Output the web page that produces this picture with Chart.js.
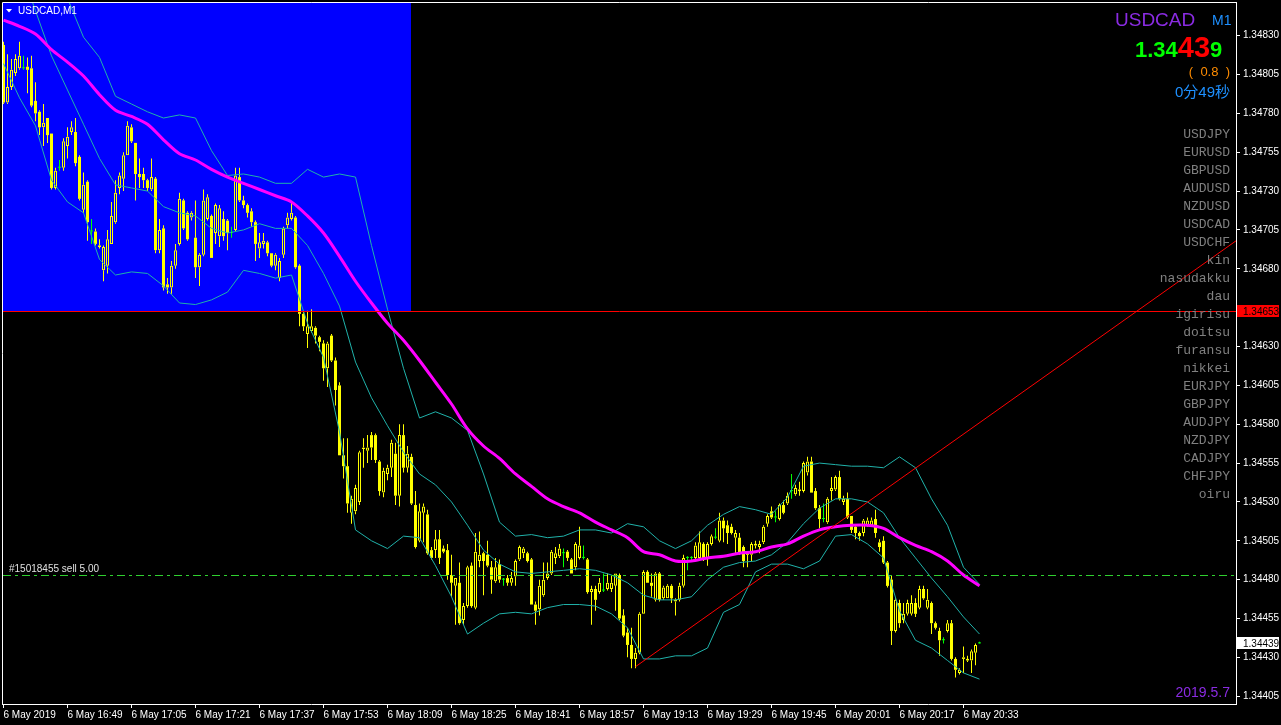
<!DOCTYPE html>
<html>
<head>
<meta charset="utf-8">
<title>USDCAD,M1</title>
<script src="https://cdn.jsdelivr.net/npm/chart.js@4.4.0/dist/chart.umd.min.js"></script>
<style>
  html, body { margin: 0; padding: 0; background: #000; }
  #wrap { width: 1281px; height: 725px; }
</style>
</head>
<body>
<div id="wrap"><canvas id="chart" width="1281" height="725"></canvas></div>
<script>
// USDCAD 1-minute bars, 6 May 2019 16:33 .. 20:37 (bar index 0..244)
const tickBars = [0, 16, 32, 48, 64, 80, 96, 112, 128, 144, 160, 176, 192, 208, 224, 240];
const tickLabels = ['6 May 2019', '6 May 16:49', '6 May 17:05', '6 May 17:21', '6 May 17:37', '6 May 17:53',
  '6 May 18:09', '6 May 18:25', '6 May 18:41', '6 May 18:57', '6 May 19:13', '6 May 19:29',
  '6 May 19:45', '6 May 20:01', '6 May 20:17', '6 May 20:33'];
// 1.34655 is hidden behind the level tag, as in the terminal
const priceTicks = [1.34405, 1.34430, 1.34455, 1.34480, 1.34505, 1.34530, 1.34555, 1.34580, 1.34605,
  1.34630, 1.34680, 1.34705, 1.34730, 1.34755, 1.34780, 1.34805, 1.34830];

const open = [
1.34824,1.34787,1.34797,1.34806,1.34809,1.34809,1.34810,1.34809,1.34788,1.34781,
1.34771,1.34777,1.34767,1.34732,1.34745,1.34745,1.34759,1.34768,1.34768,1.34752,
1.34718,1.34736,1.34704,1.34704,1.34695,1.34679,1.34682,1.34696,1.34710,1.34732,
1.34738,1.34753,1.34771,1.34761,1.34741,1.34741,1.34737,1.34731,1.34738,1.34692,
1.34706,1.34670,1.34668,1.34682,1.34696,1.34724,1.34716,1.34713,1.34700,1.34681,
1.34689,1.34712,1.34714,1.34703,1.34701,1.34712,1.34711,1.34703,1.34705,1.34739,
1.34724,1.34721,1.34717,1.34710,1.34693,1.34696,1.34697,1.34690,1.34682,1.34674,
1.34689,1.34708,1.34712,1.34713,1.34682,1.34651,1.34638,1.34640,1.34642,1.34636,
1.34632,1.34616,1.34637,1.34621,1.34605,1.34560,1.34553,1.34523,1.34524,1.34530,
1.34564,1.34563,1.34573,1.34573,1.34556,1.34536,1.34548,1.34552,1.34561,1.34534,
1.34573,1.34552,1.34559,1.34528,1.34505,1.34523,1.34522,1.34499,1.34499,1.34506,
1.34500,1.34499,1.34483,1.34476,1.34478,1.34454,1.34463,1.34489,1.34462,1.34492,
1.34497,1.34496,1.34488,1.34479,1.34490,1.34480,1.34481,1.34478,1.34482,1.34493,
1.34497,1.34497,1.34493,1.34464,1.34461,1.34470,1.34481,1.34484,1.34494,1.34495,
1.34497,1.34498,1.34493,1.34488,1.34494,1.34494,1.34493,1.34472,1.34474,1.34472,
1.34473,1.34474,1.34474,1.34476,1.34483,1.34457,1.34446,1.34438,1.34429,1.34433,
1.34458,1.34485,1.34478,1.34467,1.34484,1.34468,1.34468,1.34476,1.34466,1.34467,
1.34476,1.34494,1.34494,1.34494,1.34494,1.34503,1.34494,1.34503,1.34507,1.34505,
1.34518,1.34515,1.34514,1.34507,1.34507,1.34501,1.34497,1.34496,1.34503,1.34501,
1.34504,1.34516,1.34524,1.34520,1.34519,1.34528,1.34529,1.34537,1.34535,1.34538,
1.34537,1.34549,1.34556,1.34537,1.34526,1.34519,1.34517,1.34537,1.34538,1.34546,
1.34530,1.34532,1.34521,1.34514,1.34510,1.34510,1.34515,1.34515,1.34519,1.34504,
1.34505,1.34491,1.34480,1.34447,1.34465,1.34454,1.34458,1.34458,1.34465,1.34462,
1.34474,1.34462,1.34465,1.34452,1.34447,1.34441,1.34447,1.34452,1.34429,1.34420,
1.34430,1.34429,1.34428,1.34433,1.34439];
const high = [
1.34826,1.34818,1.34815,1.34818,1.34826,1.34817,1.34816,1.34817,1.34800,1.34782,
1.34786,1.34777,1.34767,1.34745,1.34750,1.34764,1.34771,1.34775,1.34777,1.34753,
1.34742,1.34737,1.34712,1.34706,1.34699,1.34695,1.34705,1.34723,1.34737,1.34742,
1.34755,1.34775,1.34773,1.34761,1.34751,1.34745,1.34738,1.34751,1.34739,1.34712,
1.34708,1.34674,1.34685,1.34696,1.34729,1.34725,1.34717,1.34717,1.34724,1.34690,
1.34731,1.34728,1.34715,1.34722,1.34721,1.34717,1.34712,1.34707,1.34745,1.34745,
1.34727,1.34722,1.34719,1.34711,1.34703,1.34703,1.34698,1.34690,1.34690,1.34687,
1.34707,1.34716,1.34723,1.34714,1.34683,1.34653,1.34653,1.34654,1.34643,1.34637,
1.34634,1.34633,1.34638,1.34623,1.34607,1.34571,1.34571,1.34534,1.34541,1.34563,
1.34571,1.34573,1.34575,1.34574,1.34557,1.34552,1.34554,1.34570,1.34568,1.34580,
1.34580,1.34566,1.34561,1.34537,1.34529,1.34529,1.34525,1.34501,1.34512,1.34512,
1.34502,1.34503,1.34496,1.34481,1.34491,1.34465,1.34489,1.34491,1.34510,1.34511,
1.34498,1.34505,1.34492,1.34494,1.34493,1.34481,1.34483,1.34485,1.34493,1.34502,
1.34501,1.34498,1.34494,1.34466,1.34480,1.34491,1.34491,1.34499,1.34501,1.34503,
1.34500,1.34499,1.34494,1.34504,1.34514,1.34502,1.34494,1.34476,1.34476,1.34481,
1.34484,1.34484,1.34483,1.34484,1.34484,1.34461,1.34449,1.34449,1.34436,1.34459,
1.34486,1.34486,1.34484,1.34485,1.34485,1.34476,1.34477,1.34477,1.34468,1.34478,
1.34496,1.34495,1.34495,1.34504,1.34511,1.34504,1.34504,1.34509,1.34513,1.34523,
1.34520,1.34518,1.34516,1.34512,1.34510,1.34502,1.34498,1.34504,1.34505,1.34505,
1.34515,1.34522,1.34527,1.34524,1.34529,1.34531,1.34536,1.34548,1.34541,1.34543,
1.34556,1.34559,1.34559,1.34539,1.34528,1.34529,1.34533,1.34546,1.34547,1.34550,
1.34534,1.34536,1.34521,1.34515,1.34511,1.34519,1.34520,1.34520,1.34525,1.34506,
1.34508,1.34492,1.34483,1.34468,1.34467,1.34465,1.34467,1.34470,1.34468,1.34476,
1.34476,1.34474,1.34466,1.34453,1.34449,1.34443,1.34454,1.34454,1.34430,1.34423,
1.34437,1.34431,1.34435,1.34439,1.34440];
const low = [
1.34786,1.34786,1.34795,1.34804,1.34808,1.34808,1.34793,1.34784,1.34775,1.34766,
1.34759,1.34761,1.34731,1.34731,1.34743,1.34743,1.34751,1.34766,1.34746,1.34724,
1.34716,1.34698,1.34696,1.34695,1.34693,1.34672,1.34677,1.34696,1.34709,1.34728,
1.34730,1.34753,1.34761,1.34724,1.34732,1.34732,1.34730,1.34730,1.34690,1.34690,
1.34666,1.34664,1.34664,1.34680,1.34695,1.34705,1.34698,1.34711,1.34674,1.34669,
1.34688,1.34711,1.34687,1.34696,1.34694,1.34698,1.34692,1.34700,1.34704,1.34723,
1.34719,1.34713,1.34707,1.34685,1.34687,1.34693,1.34688,1.34681,1.34679,1.34672,
1.34687,1.34706,1.34711,1.34680,1.34643,1.34640,1.34629,1.34639,1.34632,1.34627,
1.34608,1.34604,1.34620,1.34592,1.34560,1.34545,1.34523,1.34516,1.34522,1.34528,
1.34552,1.34555,1.34557,1.34555,1.34534,1.34533,1.34544,1.34546,1.34528,1.34527,
1.34549,1.34549,1.34528,1.34500,1.34504,1.34504,1.34496,1.34493,1.34494,1.34490,
1.34497,1.34480,1.34469,1.34451,1.34451,1.34451,1.34462,1.34462,1.34461,1.34488,
1.34470,1.34488,1.34471,1.34478,1.34478,1.34476,1.34476,1.34476,1.34476,1.34492,
1.34494,1.34491,1.34464,1.34451,1.34457,1.34469,1.34480,1.34483,1.34490,1.34494,
1.34488,1.34492,1.34484,1.34486,1.34493,1.34493,1.34471,1.34451,1.34460,1.34471,
1.34472,1.34473,1.34472,1.34460,1.34454,1.34443,1.34430,1.34423,1.34423,1.34432,
1.34458,1.34478,1.34469,1.34466,1.34466,1.34467,1.34468,1.34465,1.34457,1.34466,
1.34475,1.34486,1.34492,1.34492,1.34492,1.34492,1.34489,1.34502,1.34506,1.34504,
1.34504,1.34503,1.34509,1.34497,1.34496,1.34488,1.34488,1.34492,1.34500,1.34497,
1.34503,1.34514,1.34519,1.34517,1.34518,1.34522,1.34528,1.34532,1.34534,1.34534,
1.34536,1.34547,1.34536,1.34525,1.34513,1.34517,1.34516,1.34531,1.34537,1.34531,
1.34528,1.34519,1.34510,1.34506,1.34505,1.34508,1.34514,1.34514,1.34507,1.34498,
1.34490,1.34475,1.34438,1.34446,1.34449,1.34452,1.34457,1.34457,1.34456,1.34461,
1.34467,1.34461,1.34445,1.34448,1.34431,1.34439,1.34446,1.34428,1.34417,1.34419,
1.34420,1.34427,1.34420,1.34425,1.34439];
const close = [
1.34787,1.34797,1.34808,1.34815,1.34817,1.34809,1.34808,1.34785,1.34780,1.34771,
1.34774,1.34766,1.34732,1.34743,1.34745,1.34762,1.34765,1.34771,1.34748,1.34725,
1.34734,1.34710,1.34704,1.34696,1.34694,1.34694,1.34699,1.34714,1.34729,1.34740,
1.34753,1.34772,1.34762,1.34741,1.34739,1.34737,1.34732,1.34739,1.34692,1.34705,
1.34668,1.34668,1.34682,1.34692,1.34725,1.34706,1.34699,1.34716,1.34681,1.34689,
1.34724,1.34726,1.34687,1.34721,1.34719,1.34701,1.34703,1.34703,1.34740,1.34724,
1.34721,1.34716,1.34710,1.34696,1.34697,1.34698,1.34690,1.34682,1.34689,1.34685,
1.34706,1.34713,1.34716,1.34681,1.34651,1.34643,1.34643,1.34643,1.34637,1.34633,
1.34616,1.34632,1.34621,1.34602,1.34560,1.34553,1.34529,1.34532,1.34539,1.34562,
1.34565,1.34565,1.34565,1.34557,1.34537,1.34550,1.34552,1.34568,1.34534,1.34573,
1.34552,1.34561,1.34529,1.34501,1.34524,1.34527,1.34497,1.34494,1.34506,1.34494,
1.34498,1.34483,1.34478,1.34481,1.34452,1.34463,1.34488,1.34463,1.34498,1.34496,
1.34492,1.34489,1.34480,1.34488,1.34480,1.34480,1.34478,1.34481,1.34492,1.34501,
1.34500,1.34492,1.34464,1.34460,1.34476,1.34480,1.34484,1.34498,1.34497,1.34500,
1.34497,1.34494,1.34484,1.34503,1.34502,1.34494,1.34472,1.34474,1.34467,1.34478,
1.34473,1.34478,1.34478,1.34484,1.34455,1.34444,1.34438,1.34429,1.34433,1.34458,
1.34485,1.34478,1.34476,1.34484,1.34467,1.34475,1.34476,1.34468,1.34467,1.34476,
1.34494,1.34494,1.34494,1.34502,1.34504,1.34494,1.34503,1.34508,1.34507,1.34518,
1.34513,1.34510,1.34510,1.34510,1.34497,1.34492,1.34496,1.34503,1.34502,1.34503,
1.34514,1.34521,1.34520,1.34520,1.34528,1.34523,1.34534,1.34537,1.34539,1.34537,
1.34555,1.34556,1.34536,1.34526,1.34519,1.34519,1.34532,1.34539,1.34546,1.34532,
1.34532,1.34520,1.34512,1.34510,1.34508,1.34518,1.34518,1.34518,1.34510,1.34501,
1.34491,1.34476,1.34447,1.34467,1.34452,1.34458,1.34465,1.34465,1.34458,1.34474,
1.34468,1.34467,1.34452,1.34449,1.34441,1.34441,1.34452,1.34429,1.34422,1.34422,
1.34429,1.34428,1.34434,1.34438,1.34439];

// indicator readings, one every 4th bar (bar 0, 4, 8 ... 244)
const bandStep = 4;
const maLine = [
1.34840,1.34836,1.34831,1.34821,1.34813,1.34804,1.34792,1.34782,1.34778,1.34773,
1.34763,1.34754,1.34750,1.34744,1.34739,1.34735,1.34731,1.34727,1.34723,1.34714,
1.34703,1.34688,1.34672,1.34658,1.34645,1.34634,1.34621,1.34607,1.34593,1.34577,
1.34566,1.34558,1.34548,1.34540,1.34532,1.34527,1.34523,1.34517,1.34512,1.34507,
1.34498,1.34496,1.34492,1.34492,1.34494,1.34495,1.34497,1.34498,1.34501,1.34503,
1.34508,1.34512,1.34514,1.34515,1.34515,1.34513,1.34507,1.34502,1.34498,1.34492,
1.34483,1.34476];
const bandUpper = [
null,null,null,1.34880,1.34854,1.34829,1.34816,1.34791,1.34786,1.34781,
1.34777,1.34779,1.34777,1.34756,1.34740,1.34741,1.34739,1.34735,1.34735,1.34744,
1.34739,1.34741,1.34739,1.34695,1.34654,1.34616,1.34584,1.34588,1.34584,1.34576,
1.34548,1.34517,1.34508,1.34509,1.34507,1.34508,1.34512,1.34512,1.34510,1.34516,
1.34514,1.34505,1.34500,1.34505,1.34515,1.34522,1.34527,1.34525,1.34522,1.34533,
1.34553,1.34555,1.34554,1.34553,1.34553,1.34552,1.34559,1.34552,1.34532,1.34515,
1.34488,1.34477];
const bandMid = [
null,1.34875,1.34846,1.34817,1.34795,1.34773,1.34751,1.34734,1.34732,1.34730,
1.34720,1.34716,1.34714,1.34706,1.34703,1.34705,1.34709,1.34706,1.34706,1.34695,
1.34677,1.34656,1.34620,1.34597,1.34579,1.34562,1.34548,1.34541,1.34530,1.34515,
1.34499,1.34490,1.34485,1.34484,1.34485,1.34486,1.34487,1.34486,1.34483,1.34478,
1.34470,1.34467,1.34467,1.34469,1.34480,1.34488,1.34491,1.34492,1.34496,1.34504,
1.34516,1.34526,1.34532,1.34532,1.34530,1.34523,1.34507,1.34494,1.34481,1.34469,
1.34456,1.34445];
const bandLower = [
1.34812,1.34790,1.34772,1.34737,1.34723,1.34716,1.34686,1.34676,1.34678,1.34677,
1.34669,1.34658,1.34657,1.34660,1.34665,1.34679,1.34677,1.34674,1.34676,1.34645,
1.34623,1.34575,1.34512,1.34505,1.34500,1.34508,1.34507,1.34489,1.34469,1.34445,
1.34452,1.34458,1.34459,1.34458,1.34462,1.34464,1.34464,1.34463,1.34458,1.34449,
1.34429,1.34429,1.34431,1.34431,1.34436,1.34459,1.34464,1.34485,1.34490,1.34490,
1.34487,1.34492,1.34508,1.34509,1.34503,1.34494,1.34460,1.34441,1.34436,1.34428,
1.34420,1.34416];

// chart objects
const levelPrice = 1.34653;
const orderPrice = 1.34483;
const orderText = '#15018455 sell 5.00';
const trendAnchors = [[158, 1.34424], [238, 1.34570]];
const boxObj = { from: -5, to: 101.8, bottom: 1.34653, top: 1.34900 };
const symbolName = 'USDCAD';
const periodName = 'M1';
const spreadText = '(  0.8  )';
const timerText = '0分49秒';
const dateText = '2019.5.7';
const watchList = ['USDJPY', 'EURUSD', 'GBPUSD', 'AUDUSD', 'NZDUSD', 'USDCAD', 'USDCHF', 'kin',
  'nasudakku', 'dau', 'igirisu', 'doitsu', 'furansu', 'nikkei', 'EURJPY', 'GBPJPY', 'AUDJPY',
  'NZDJPY', 'CADJPY', 'CHFJPY', 'oiru'];

const YELLOW = '#ffff00', GREEN = '#00ff00', BANDS = '#20b2aa';
const FONT = '"Liberation Sans", Arial, sans-serif';

const bars = open.map((_, i) => i);
const isDoji = i => open[i] === close[i];
const isBull = i => close[i] > open[i];
const candleColor = bars.map(i => isDoji(i) ? GREEN : YELLOW);
const lineData = arr => arr.map((v, k) => ({ x: k * bandStep, y: v }));

const mt4Objects = {
  id: 'mt4Objects',
  beforeDraw(chart) {
    const { ctx, width, height } = chart;
    ctx.save();
    ctx.fillStyle = '#000';
    ctx.fillRect(0, 0, width, height);
    ctx.restore();
  },
  beforeDatasetsDraw(chart) {
    const { ctx, chartArea: a, scales: { x, y } } = chart;
    ctx.save();
    ctx.beginPath();
    ctx.rect(a.left, a.top, a.right - a.left, a.bottom - a.top);
    ctx.clip();
    const x0 = Math.max(a.left, x.getPixelForValue(boxObj.from));
    const x1 = Math.round(x.getPixelForValue(boxObj.to));
    const y0 = Math.max(a.top, y.getPixelForValue(boxObj.top));
    const y1 = Math.round(y.getPixelForValue(boxObj.bottom));
    ctx.fillStyle = '#0000ff';
    ctx.fillRect(x0, y0, x1 - x0, y1 - y0);
    ctx.restore();
  },
  afterDatasetsDraw(chart) {
    const { ctx, chartArea: a, scales: { x, y } } = chart;
    ctx.save();
    ctx.beginPath();
    ctx.rect(a.left, a.top, a.right - a.left, a.bottom - a.top);
    ctx.clip();
    ctx.lineWidth = 1;

    // horizontal level
    const ly = Math.round(y.getPixelForValue(levelPrice)) + 0.5;
    ctx.strokeStyle = '#ff0000';
    ctx.beginPath(); ctx.moveTo(a.left, ly); ctx.lineTo(a.right, ly); ctx.stroke();

    // order line
    const oy = Math.round(y.getPixelForValue(orderPrice)) + 0.5;
    ctx.strokeStyle = '#2fd02f';
    ctx.setLineDash([8, 4, 3, 4]);
    ctx.beginPath(); ctx.moveTo(a.left, oy); ctx.lineTo(a.right, oy); ctx.stroke();
    ctx.setLineDash([]);

    // trend ray
    const [[t1, p1], [t2, p2]] = trendAnchors;
    const slope = (p2 - p1) / (t2 - t1);
    const pEnd = p1 + slope * (x.max - t1);
    ctx.strokeStyle = '#ff0000';
    ctx.beginPath();
    ctx.moveTo(x.getPixelForValue(t1), y.getPixelForValue(p1));
    ctx.lineTo(x.getPixelForValue(x.max), y.getPixelForValue(pEnd));
    ctx.stroke();
    ctx.restore();
  },
  afterDraw(chart) {
    const { ctx, chartArea: a, scales: { y } } = chart;
    ctx.save();
    // frame top/left
    ctx.strokeStyle = '#ffffff';
    ctx.lineWidth = 1;
    ctx.beginPath();
    ctx.moveTo(a.left - 0.5, a.bottom + 1);
    ctx.lineTo(a.left - 0.5, a.top - 0.5);
    ctx.lineTo(a.right + 1, a.top - 0.5);
    ctx.stroke();

    const txt = (s, px, py, font, color, align) => {
      ctx.font = font; ctx.fillStyle = color; ctx.textAlign = align || 'left';
      ctx.textBaseline = 'alphabetic'; ctx.fillText(s, px, py);
    };

    // window caption
    ctx.fillStyle = '#ffffff';
    ctx.beginPath(); ctx.moveTo(6, 9); ctx.lineTo(12, 9); ctx.lineTo(9, 12.5); ctx.closePath(); ctx.fill();
    txt(symbolName + ',' + periodName, 18, 14, '10px ' + FONT, '#ffffff');

    // order label
    txt(orderText, 9, 572, '10px ' + FONT, '#e0e0e0');

    // symbol + price block
    txt(symbolName, 1115, 26, '19px ' + FONT, '#8a2be2');
    txt(periodName, 1212, 25, '14px ' + FONT, '#1e90ff');
    const last = close[close.length - 1].toFixed(5);
    const parts = [[last.slice(0, 4), 'bold 22px ' + FONT, '#00ff00'],
                   [last.slice(4, 6), 'bold 29px ' + FONT, '#ff0000'],
                   [last.slice(6), 'bold 22px ' + FONT, '#00ff00']];
    let px = 1135;
    parts.forEach(([s, f, c]) => { txt(s, px, 57, f, c); ctx.font = f; px += ctx.measureText(s).width; });
    txt(spreadText, 1230, 76, '13px ' + FONT, '#ff8c00', 'right');
    txt(timerText, 1230, 97, '15px ' + FONT + ', "Noto Sans CJK JP"', '#1e90ff', 'right');

    // watch list
    watchList.forEach((s, k) => txt(s, 1230, 138 + k * 18, '13px "Liberation Mono", "Courier New", monospace', '#808080', 'right'));

    txt(dateText, 1230, 697, '14px ' + FONT, '#8a2be2', 'right');

    // price labels on the axis
    const tag = (price, bg, fg) => {
      const py = Math.round(y.getPixelForValue(price));
      ctx.fillStyle = bg;
      ctx.fillRect(a.right + 1, py - 6, 42, 12);
      txt(price.toFixed(5), a.right + 7, py + 4, '10px ' + FONT, fg);
    };
    tag(levelPrice, '#ff0000', '#000000');
    tag(close[close.length - 1], '#ffffff', '#000000');
    ctx.restore();
  }
};

new Chart(document.getElementById('chart'), {
  type: 'bar',
  data: {
    datasets: [
      { type: 'line', label: 'MA', data: lineData(maLine), borderColor: '#ff00ff', borderWidth: 3,
        pointRadius: 0, tension: 0.3, clip: 0, order: 0 },
      { type: 'line', label: 'Bands upper', data: lineData(bandUpper), borderColor: BANDS, borderWidth: 1,
        pointRadius: 0, tension: 0, clip: 0, order: 1 },
      { type: 'line', label: 'Bands middle', data: lineData(bandMid), borderColor: BANDS, borderWidth: 1,
        pointRadius: 0, tension: 0, clip: 0, order: 1 },
      { type: 'line', label: 'Bands lower', data: lineData(bandLower), borderColor: BANDS, borderWidth: 1,
        pointRadius: 0, tension: 0, clip: 0, order: 1 },
      { label: 'body', data: bars.map(i => ({ x: i, y: [open[i], close[i]] })),
        grouped: false, barThickness: 3, maxBarThickness: 3, minBarLength: 1, inflateAmount: 0,
        backgroundColor: bars.map(i => isBull(i) ? 'rgba(0,0,0,0)' : candleColor[i]),
        borderColor: YELLOW, borderWidth: bars.map(i => isBull(i) ? 1 : 0), borderSkipped: false, order: 5 },
      { label: 'upper wick', data: bars.map(i => ({ x: i, y: [Math.max(open[i], close[i]), high[i]] })),
        grouped: false, barThickness: 1, maxBarThickness: 1, inflateAmount: 0,
        backgroundColor: candleColor, borderWidth: 0, order: 6 },
      { label: 'lower wick', data: bars.map(i => ({ x: i, y: [low[i], Math.min(open[i], close[i])] })),
        grouped: false, barThickness: 1, maxBarThickness: 1, inflateAmount: 0,
        backgroundColor: candleColor, borderWidth: 0, order: 6 }
    ]
  },
  options: {
    responsive: false,
    devicePixelRatio: 1,
    animation: false,
    events: [],
    layout: { padding: { left: 3, top: 3, right: 0, bottom: 0 } },
    plugins: { legend: { display: false }, tooltip: { enabled: false } },
    scales: {
      x: {
        type: 'linear', min: -0.125, max: 308.125, offset: false,
        afterBuildTicks: s => { s.ticks = tickBars.map(v => ({ value: v })); },
        afterFit: s => { s.height = 21; s.paddingLeft = 0; s.paddingRight = 0; },
        grid: { display: true, drawOnChartArea: false, drawTicks: true, tickLength: 4, color: '#ffffff', offset: false },
        border: { display: true, color: '#ffffff' },
        ticks: { autoSkip: false, maxRotation: 0, minRotation: 0, align: 'start', padding: 1,
          color: '#ffffff', font: { family: FONT, size: 10 },
          callback: (v, i) => tickLabels[i] }
      },
      y: {
        type: 'linear', position: 'right', min: 1.34400, max: 1.34851, beginAtZero: false,
        afterBuildTicks: s => { s.ticks = priceTicks.map(v => ({ value: v })); },
        afterFit: s => { s.width = 45; s.paddingTop = 0; s.paddingBottom = 0; },
        grid: { display: true, drawOnChartArea: false, drawTicks: true, tickLength: 4, color: '#ffffff' },
        border: { display: true, color: '#ffffff' },
        ticks: { autoSkip: false, padding: 3, color: '#ffffff', font: { family: FONT, size: 10 },
          callback: v => v.toFixed(5) }
      }
    }
  },
  plugins: [mt4Objects]
});
</script>
</body>
</html>
